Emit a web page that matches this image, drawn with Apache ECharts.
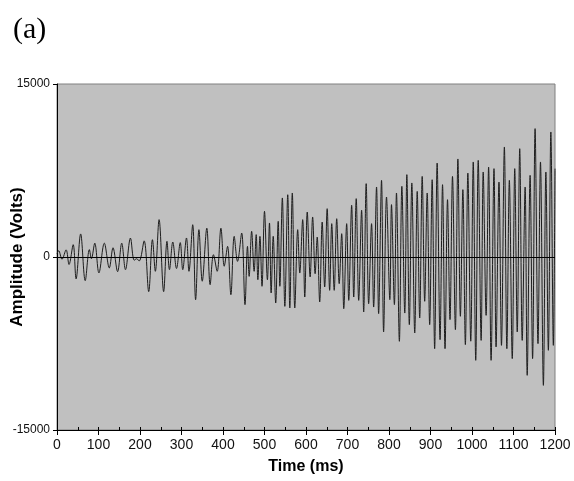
<!DOCTYPE html>
<html>
<head>
<meta charset="utf-8">
<script src="https://cdn.jsdelivr.net/npm/echarts@6/dist/echarts.min.js"></script>
<style>
  html, body { margin: 0; padding: 0; background: #fff; }
  #chart { width: 574px; height: 481px; }
</style>
</head>
<body>
<div id="chart"></div>
<script>
// extrema of the trace (ms, volts)
const times = [
  0, 4, 12, 22, 29, 39, 46, 57, 68, 78, 83, 91, 101, 114, 126, 135, 146, 156, 165, 177,
  186, 192, 198, 210, 221, 230, 237, 246, 257, 265, 271, 279, 288, 297, 303, 312, 318, 327,
  334, 342, 350, 361, 369, 377, 386, 395,
  403, 411, 419, 427, 435, 445, 453, 459, 463, 469, 475, 480, 484, 489, 494, 500, 507, 512,
  516, 521, 527, 533, 537, 543, 549, 556, 561, 567, 573, 580, 585, 592, 597,
  603, 610, 616, 622, 627, 633, 639, 645, 651, 657, 662, 668, 674, 680, 686, 691, 698, 703,
  710, 715, 721, 727, 734, 739, 745, 751, 758, 763, 770, 775, 782, 787, 794,
  802, 806, 813, 818, 825, 831, 838, 843, 849, 855, 862, 868, 874, 880, 886, 892, 898, 904,
  910, 916, 923, 929, 935, 941, 947, 953, 960, 966, 972, 978, 984, 990, 997,
  1003, 1009, 1015, 1022, 1027, 1034, 1040, 1046, 1053, 1058, 1065, 1071, 1078, 1084, 1090,
  1097, 1103, 1109, 1115, 1121, 1128, 1133, 1140, 1146, 1152, 1159, 1165, 1172, 1178, 1184,
  1190, 1196, 1200
]
const volts = [
  300, 550, -200, 620, -650, 1070, -1900, 2000, -2050, 640, -150, 1200, -1380, 1200, -950, 800, -1270, 1200, -1100, 1640,
  -280, -150, -350, 1400, -3000, 1500, -1240, 3240, -3000, 1360, -1100, 1300, -1000, 1250, -1100, 1650, -1240, 2800,
  -3700, 2370, -2100, 2500, -2400, 200, -1240, 2500,
  -800, 920, -3270, 1790, -380, 2080, -4130, 920, -1680, 2230, -1240, 1940, -1970, 1790, -2540, 3960, -1970, 2950,
  -3120, 1790, -3990, 3090, -2540, 5120, -4280, 5400, -4420, 5550, -4420, 2370, -1390, 3240, -3470,
  3900, -1730, 3470, -1450, 1730, -3900, 3030, -2600, 4190, -2890, 2890, -2890, 3320, -2310, 2020, -4480, 2890, -3760,
  4480, -3470, 5060, -3760, 4050, -4770, 6360, -4050, 2890, -4340, 6070, -4910, 6650, -6500, 5200,
  -3700, 4540, -4130, 5550, -7310, 6130, -4860, 7140, -5870, 6420, -6590, 5690, -5290, 6990, -3840, 5550, -5870, 6700,
  -7950, 8150, -7170, 6270, -7950, 4970, -5430, 6990, -6300, 8500, -5140, 5840, -7600, 7280, -7300,
  8240, -8960, 8380, -7230, 7370, -5060, 7800, -8960, 7660, -7800, 6500, -7660, 9540, -7950, 6650,
  -8810, 7660, -6500, 9390, -7230, 6070, -10260, 7080, -8810, 11130, -7510, 8240, -11130, 7370, -8090,
  10840, -7660, 7660
]
const xTicks = [0, 1200, 100]
const yTicks = [-15000, 15000, 15000]

const points = times.map((t, i) => [t, volts[i]])

const labelFont = 'Liberation Sans, Arial, sans-serif'
const plain = v => String(v)

const chart = echarts.init(document.getElementById('chart'), null, { renderer: 'canvas' })

const option = {
  animation: false,
  backgroundColor: '#fff',
  title: {
    text: '(a)',
    left: 8,
    top: 10,
    textStyle: { fontFamily: 'Liberation Serif, Times New Roman, serif', fontSize: 30, fontWeight: 'normal', color: '#000' }
  },
  grid: {
    left: 57, right: 19, top: 84, bottom: 51,
    outerBoundsMode: 'none',
    containLabel: false,
    show: true,
    backgroundColor: '#c0c0c0',
    borderColor: '#808080',
    borderWidth: 1
  },
  xAxis: [
    {
      type: 'value',
      min: xTicks[0], max: xTicks[1], interval: xTicks[2],
      name: 'Time (ms)',
      nameLocation: 'middle',
      nameGap: 29,
      nameMoveOverlap: false,
      nameTextStyle: { fontFamily: labelFont, fontWeight: 'bold', fontSize: 16, color: '#000' },
      axisLine: { onZero: false, lineStyle: { color: '#000', width: 1 } },
      axisTick: { length: 5, lineStyle: { color: '#000' } },
      axisLabel: { margin: 8, fontFamily: labelFont, fontSize: 14, color: '#111', formatter: plain },
      splitLine: { show: false }
    },
    {
      type: 'value',
      position: 'bottom',
      min: xTicks[0], max: xTicks[1], interval: xTicks[2] / 2,
      axisLine: { show: false, onZero: false },
      axisTick: { inside: true, length: 3, lineStyle: { color: '#000' } },
      axisLabel: { show: false },
      splitLine: { show: false }
    }
  ],
  yAxis: {
    type: 'value',
    min: yTicks[0], max: yTicks[1], interval: yTicks[2],
    name: 'Amplitude (Volts)',
    nameLocation: 'middle',
    nameGap: 31,
    nameMoveOverlap: false,
    nameTextStyle: { fontFamily: labelFont, fontWeight: 'bold', fontSize: 17, color: '#000' },
    axisLine: { show: true, lineStyle: { color: '#000', width: 1 } },
    axisTick: { show: true, length: 4, lineStyle: { color: '#000' } },
    axisLabel: { margin: 7, fontFamily: labelFont, fontSize: 12, color: '#111', formatter: plain },
    splitLine: { show: false }
  },
  series: [
    {
      type: 'line',
      data: points,
      xAxisIndex: 0,
      showSymbol: false,
      smooth: 0.35,
      lineStyle: { color: '#1e1e1e', width: 1 },
      markLine: {
        silent: true,
        symbol: 'none',
        label: { show: false },
        lineStyle: { color: '#000', width: 1.2, type: 'solid' },
        data: [{ yAxis: 0 }]
      }
    }
  ]
}

chart.setOption(option)
</script>
</body>
</html>
